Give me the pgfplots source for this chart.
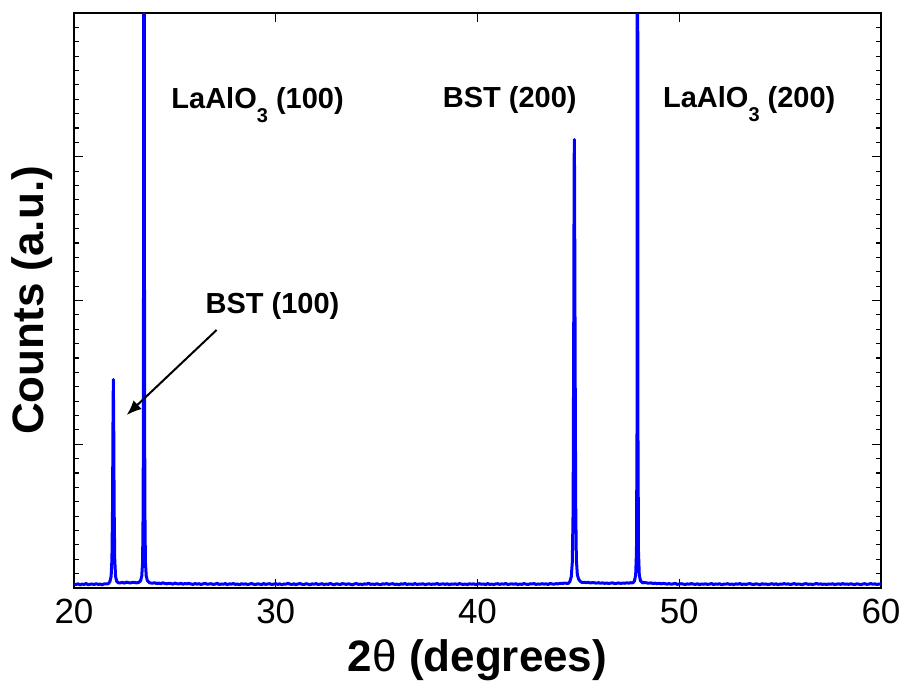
\documentclass[border=0pt]{standalone}
\usepackage{pgfplots}
\pgfplotsset{compat=1.18}
\usepackage{fontspec}
\setmainfont{Liberation Sans}
\usetikzlibrary{arrows.meta}

\newcommand{\peakfont}{\bfseries\fontsize{14.5}{17}\selectfont}
\newcommand{\sub}[1]{\raisebox{-0.5em}{\fontsize{10}{12}\selectfont #1}}

\begin{document}
\begin{tikzpicture}
\path[use as bounding box] (-37pt,-47pt) rectangle (414pt,294pt);
\begin{axis}[
  scale only axis,
  width=403.5pt, height=287.5pt,
  xmin=20, xmax=60, ymin=0, ymax=4,
  xtick={20,30,40,50,60},
  ytick={0,1,2,3,4}, yticklabels={},
  minor y tick num=9,
  tick pos=both, ticklabel pos=left,
  tick align=inside,
  major tick length=4.5pt, minor tick length=2.3pt,
  axis line style={line width=0.75pt},
  every tick/.style={black, line width=0.6pt},
  /pgf/number format/assume math mode=true,
  tick label style={font=\fontsize{17.5}{20}\selectfont},
  xticklabel style={yshift=-2pt},
  xlabel={2{\mdseries θ} (degrees)},
  ylabel={Counts (a.u.)},
  xlabel style={at={(axis description cs:0.5,-0.125)}, anchor=center,
    font=\bfseries\fontsize{22}{26}\selectfont},
  ylabel style={at={(axis description cs:-0.052,0.5)}, anchor=center,
    font=\bfseries\fontsize{22}{26}\selectfont},
]
% XRD scan of the BST film on LaAlO3
\addplot[blue, line width=1.5pt, line join=round] coordinates {
(20.0,.026)(20.1,.024)(20.2,.029)(20.3,.022)(20.4,.027)(20.5,.025)(20.6,.031)(20.7,.023)(20.8,.026)(20.9,.028)
(21.0,.024)(21.1,.030)(21.2,.025)(21.3,.027)(21.4,.023)(21.5,.029)(21.6,.028)
(21.70,.030)(21.78,.045)(21.84,.080)(21.88,.200)(21.91,.550)(21.93,1.100)(21.95,1.450)
(21.97,1.100)(21.99,.550)(22.02,.200)(22.06,.080)(22.12,.045)(22.20,.036)
(22.3,.036)(22.4,.039)(22.5,.034)(22.6,.041)(22.7,.037)(22.8,.035)(22.9,.040)(23.0,.038)(23.1,.036)
(23.20,.038)(23.30,.050)(23.36,.085)(23.40,.180)(23.43,.600)(23.45,2.500)(23.47,9.000)
(23.49,2.500)(23.51,.600)(23.54,.180)(23.58,.085)(23.64,.050)(23.75,.036)
(23.8,.035)(23.9,.033)(24.0,.037)(24.1,.031)(24.2,.034)(24.3,.030)(24.4,.036)(24.5,.032)(24.6,.029)(24.7,.033)
(24.8,.031)(24.9,.027)(25.0,.034)(25.1,.030)(25.2,.028)(25.3,.033)(25.4,.026)(25.5,.031)(25.6,.029)(25.7,.032)
(25.8,.028)(25.9,.025)(26.0,.031)(26.1,.027)(26.2,.030)(26.3,.024)(26.4,.029)(26.5,.032)(26.6,.026)(26.7,.028)
(26.8,.030)(26.9,.025)(27.0,.027)(27.1,.033)(27.2,.024)(27.3,.028)(27.4,.026)(27.5,.031)(27.6,.023)(27.7,.029)
(27.8,.027)(27.9,.031)(28.0,.025)(28.1,.028)(28.2,.022)(28.3,.030)(28.4,.026)(28.5,.029)(28.6,.024)(28.7,.027)
(28.8,.032)(28.9,.026)(29.0,.024)(29.1,.029)(29.2,.027)(29.3,.023)(29.4,.031)(29.5,.025)(29.6,.028)(29.7,.030)
(29.8,.024)(29.9,.027)(30.0,.030)(30.1,.025)(30.2,.029)(30.3,.022)(30.4,.028)(30.5,.026)(30.6,.033)(30.7,.027)
(30.8,.025)(30.9,.029)(31.0,.023)(31.1,.028)(31.2,.031)(31.3,.026)(31.4,.024)(31.5,.030)(31.6,.027)(31.7,.022)
(31.8,.029)(31.9,.026)(32.0,.031)(32.1,.024)(32.2,.027)(32.3,.030)(32.4,.023)(32.5,.028)(32.6,.025)(32.7,.032)
(32.8,.026)(32.9,.023)(33.0,.029)(33.1,.027)(33.2,.024)(33.3,.031)(33.4,.028)(33.5,.025)(33.6,.030)(33.7,.026)
(33.8,.022)(33.9,.028)(34.0,.031)(34.1,.025)(34.2,.027)(34.3,.024)(34.4,.029)(34.5,.026)(34.6,.033)(34.7,.025)
(34.8,.028)(34.9,.024)(35.0,.030)(35.1,.026)(35.2,.023)(35.3,.029)(35.4,.027)(35.5,.031)(35.6,.025)(35.7,.028)
(35.8,.030)(35.9,.025)(36.0,.027)(36.1,.022)(36.2,.029)(36.3,.026)(36.4,.032)(36.5,.024)(36.6,.028)(36.7,.027)
(36.8,.025)(36.9,.031)(37.0,.024)(37.1,.028)(37.2,.026)(37.3,.030)(37.4,.023)(37.5,.027)(37.6,.029)(37.7,.025)
(37.8,.028)(37.9,.026)(38.0,.032)(38.1,.024)(38.2,.027)(38.3,.029)(38.4,.025)(38.5,.030)(38.6,.022)(38.7,.028)
(38.8,.026)(38.9,.029)(39.0,.024)(39.1,.031)(39.2,.027)(39.3,.025)(39.4,.028)(39.5,.023)(39.6,.030)(39.7,.026)
(39.8,.029)(39.9,.024)(40.0,.027)(40.1,.030)(40.2,.026)(40.3,.028)(40.4,.023)(40.5,.031)(40.6,.025)(40.7,.027)
(40.8,.024)(40.9,.028)(41.0,.030)(41.1,.025)(41.2,.029)(41.3,.026)(41.4,.032)(41.5,.024)(41.6,.027)(41.7,.029)
(41.8,.026)(41.9,.030)(42.0,.023)(42.1,.028)(42.2,.025)(42.3,.031)(42.4,.027)(42.5,.024)(42.6,.029)(42.7,.028)
(42.8,.031)(42.9,.025)(43.0,.028)(43.1,.026)(43.2,.030)(43.3,.027)(43.4,.029)(43.5,.024)(43.6,.032)(43.7,.028)
(43.8,.027)(43.9,.030)(44.0,.029)(44.1,.033)(44.2,.031)(44.3,.034)(44.4,.033)
(44.50,.032)(44.58,.045)(44.65,.080)(44.70,.180)(44.74,.550)(44.77,1.800)(44.79,2.900)(44.80,3.120)
(44.81,2.900)(44.83,2.000)(44.85,1.200)(44.87,.550)(44.90,.200)(44.95,.090)(45.02,.060)(45.10,.045)(45.20,.038)
(45.3,.040)(45.4,.037)(45.5,.039)(45.6,.035)(45.7,.038)(45.8,.036)(45.9,.034)(46.0,.037)(46.1,.033)(46.2,.036)
(46.3,.032)(46.4,.035)(46.5,.031)(46.6,.034)(46.7,.036)(46.8,.030)(46.9,.033)(47.0,.035)(47.1,.032)(47.2,.034)
(47.3,.033)(47.4,.036)(47.5,.034)(47.6,.037)
(47.70,.035)(47.78,.050)(47.84,.090)(47.88,.250)(47.91,1.200)(47.93,9.000)
(47.95,1.200)(47.98,.250)(48.02,.090)(48.08,.050)(48.18,.036)
(48.3,.038)(48.4,.035)(48.5,.033)(48.6,.036)(48.7,.031)(48.8,.034)(48.9,.030)(49.0,.033)(49.1,.029)(49.2,.032)
(49.3,.030)(49.4,.027)(49.5,.031)(49.6,.026)(49.7,.029)(49.8,.032)(49.9,.025)(50.0,.028)(50.1,.030)(50.2,.027)
(50.3,.024)(50.4,.029)(50.5,.026)(50.6,.031)(50.7,.027)(50.8,.025)(50.9,.030)(51.0,.023)(51.1,.028)(51.2,.026)
(51.3,.029)(51.4,.025)(51.5,.027)(51.6,.031)(51.7,.024)(51.8,.028)(51.9,.026)(52.0,.030)(52.1,.022)(52.2,.027)
(52.3,.027)(52.4,.030)(52.5,.025)(52.6,.028)(52.7,.023)(52.8,.029)(52.9,.026)(53.0,.031)(53.1,.024)(53.2,.028)
(53.3,.025)(53.4,.028)(53.5,.031)(53.6,.026)(53.7,.024)(53.8,.029)(53.9,.027)(54.0,.022)(54.1,.030)(54.2,.026)
(54.3,.028)(54.4,.024)(54.5,.027)(54.6,.030)(54.7,.025)(54.8,.029)(54.9,.023)(55.0,.028)(55.1,.026)(55.2,.031)
(55.3,.026)(55.4,.029)(55.5,.024)(55.6,.027)(55.7,.031)(55.8,.025)(55.9,.028)(56.0,.026)(56.1,.023)(56.2,.029)
(56.3,.030)(56.4,.025)(56.5,.028)(56.6,.024)(56.7,.027)(56.8,.032)(56.9,.026)(57.0,.029)(57.1,.025)(57.2,.028)
(57.3,.024)(57.4,.028)(57.5,.026)(57.6,.030)(57.7,.023)(57.8,.027)(57.9,.029)(58.0,.025)(58.1,.031)(58.2,.026)
(58.3,.028)(58.4,.025)(58.5,.030)(58.6,.026)(58.7,.024)(58.8,.029)(58.9,.027)(59.0,.023)(59.1,.028)(59.2,.030)
(59.3,.025)(59.4,.027)(59.5,.031)(59.6,.026)(59.7,.029)(59.8,.024)(59.9,.028)(60.0,.026)
};
% peak assignments
\node[anchor=base, font=\peakfont] at (axis cs:29.10,3.339) {LaAlO\sub{3} (100)};
\node[anchor=base, font=\peakfont] at (axis cs:41.60,3.346) {BST (200)};
\node[anchor=base, font=\peakfont] at (axis cs:53.47,3.346) {LaAlO\sub{3} (200)};
\node[anchor=base, font=\peakfont] at (axis cs:29.84,1.913) {BST (100)};
\draw[-{Latex[length=7.5pt,width=6pt]}, line width=1pt] (axis cs:27.07,1.795) -- (axis cs:22.61,1.203);
\end{axis}
\end{tikzpicture}
\end{document}
